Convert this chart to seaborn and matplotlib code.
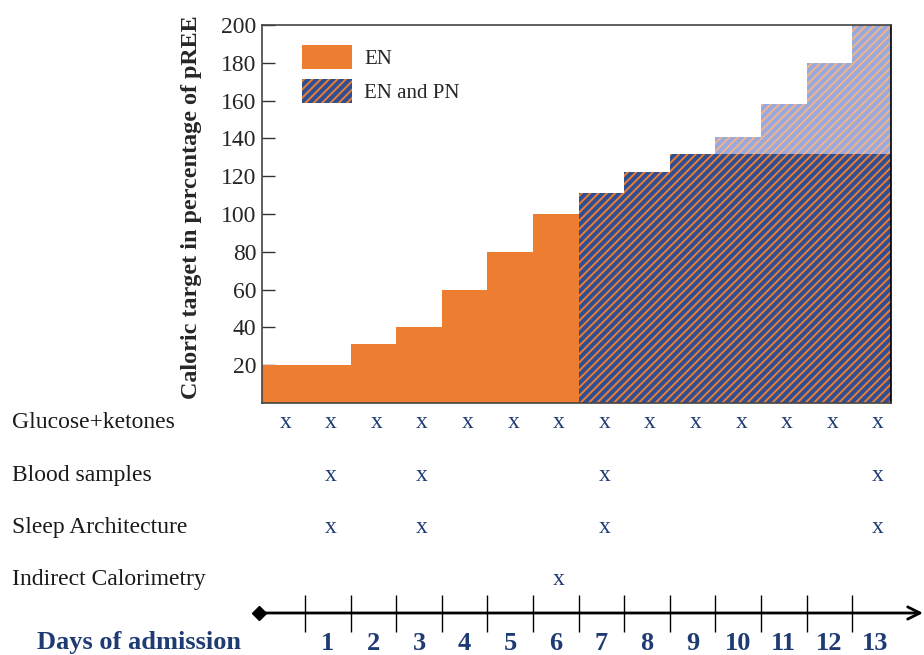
import numpy as np
import pandas as pd
import matplotlib
matplotlib.use("Agg")
import matplotlib.pyplot as plt
import matplotlib.patches as mpatches
import seaborn as sns

# --- data ---
en_days = [0, 1, 2, 3, 4, 5, 6]
en_vals = [20, 20, 31, 40, 60, 80, 100]
pn_days = [7, 8, 9, 10, 11, 12, 13]
pn_vals = [111, 122, 132, 132, 132, 132, 132]      # dark hatched part
pn_target = [111, 122, 132, 141, 158, 180, 200]    # light hatched part on top

rows = ["Glucose+ketones", "Blood samples", "Sleep Architecture", "Indirect Calorimetry"]
row_days = [
    [0, 1, 2, 3, 4, 5, 6, 7, 8, 9, 10, 11, 12, 13],
    [1, 3, 7, 13],
    [1, 3, 7, 13],
    [6],
]
day_labels = [str(d) for d in range(1, 14)]

ORANGE = "#ED7D31"
BLUE = "#2F4F94"
LIGHT_BLUE = "#98A9DE"
LIGHT_ORANGE = "#F2B48A"
NAVY = "#1F3B73"
HATCH = "////"

sns.set_style("white")
plt.rcParams["font.family"] = ["Liberation Serif", "DejaVu Serif"]
plt.rcParams["hatch.linewidth"] = 1.4

fig = plt.figure(figsize=(9.24, 6.55), dpi=100)
W, H = 924, 655


def px2day(px):
    # day d is centred at 305 + 45.6*(d - 0.5) pixels
    return (px - 305) / 45.6 + 0.5


ax = fig.add_axes([262 / W, 1 - 403 / H, (891 - 262) / W, (403 - 25) / H])

df_en = pd.DataFrame({"day": en_days, "val": en_vals})
df_pn = pd.DataFrame({"day": pn_days, "val": pn_vals, "target": pn_target})

sns.barplot(data=df_en, x="day", y="val", native_scale=True, width=1,
            color=ORANGE, saturation=1, errorbar=None, linewidth=0, ax=ax)
sns.barplot(data=df_pn, x="day", y="target", native_scale=True, width=1,
            color=LIGHT_BLUE, saturation=1, errorbar=None, linewidth=0,
            edgecolor=LIGHT_ORANGE, hatch=HATCH, ax=ax)
sns.barplot(data=df_pn, x="day", y="val", native_scale=True, width=1,
            color=BLUE, saturation=1, errorbar=None, linewidth=0,
            edgecolor=ORANGE, hatch=HATCH, ax=ax)

ax.set_xlim(px2day(262), px2day(891))
ax.set_ylim(0, 200)
ax.set_xticks([])
ax.set_yticks(range(20, 201, 20))
ax.tick_params(axis="y", direction="in", length=9, width=1, color="#333333",
               labelsize=17, pad=4, left=True)
ax.set_xlabel("")
ax.set_ylabel("")
for s in ax.spines.values():
    s.set_visible(True)
    s.set_color("#444444")
    s.set_linewidth(1.2)
ax.spines["right"].set_color("black")

fig.text(192 / W, 1 - 207 / H, "Caloric target in percentage of pREE",
         rotation=90, ha="center", va="center", fontsize=17.4, fontweight="bold")

handles = [
    mpatches.Patch(facecolor=ORANGE, linewidth=0, label="EN"),
    mpatches.Patch(facecolor=BLUE, edgecolor=ORANGE, hatch=HATCH, linewidth=0, label="EN and PN"),
]
ax.legend(handles=handles, loc="upper left", bbox_to_anchor=(0.04, 0.985),
          frameon=False, fontsize=15, handlelength=2.4, handleheight=1.4,
          labelspacing=0.45, handletextpad=0.6, borderpad=0.2)

# --- lower part: sampling schedule and time line ---
ax2 = fig.add_axes([262 / W, 0, (891 - 262) / W, (H - 403) / H])
ax2.set_xlim(px2day(262), px2day(891))
ax2.set_ylim(H, 403)
ax2.axis("off")

row_y = [422, 475, 527, 579]
for name, days, y in zip(rows, row_days, row_y):
    fig.text(12 / W, 1 - y / H, name, ha="left", va="center", fontsize=17, color="#1a1a1a")
    for d in days:
        ax2.text(d + 0.07, y, "x", ha="center", va="center", fontsize=17, color=NAVY, clip_on=False)

line_y = 613
ax2.annotate("", xy=(px2day(923), line_y), xytext=(px2day(258), line_y),
             arrowprops=dict(arrowstyle="->", lw=2, color="black", mutation_scale=22,
                             shrinkA=0, shrinkB=0),
             annotation_clip=False)
ax2.plot([px2day(259)], [line_y], marker="D", ms=7, color="black", clip_on=False)
bounds = np.array(en_days + pn_days[:-1]) + 0.5
ax2.vlines(bounds, 595, 632, color="black", lw=1)

for d, lab in zip(range(1, 14), day_labels):
    ax2.text(d, 643, lab, ha="center", va="center", fontsize=19, fontweight="bold",
             color=NAVY, clip_on=False)
fig.text(37 / W, 1 - 643 / H, "Days of admission", ha="left", va="center",
         fontsize=19, fontweight="bold", color=NAVY)

fig.savefig("out.png", dpi=100)
